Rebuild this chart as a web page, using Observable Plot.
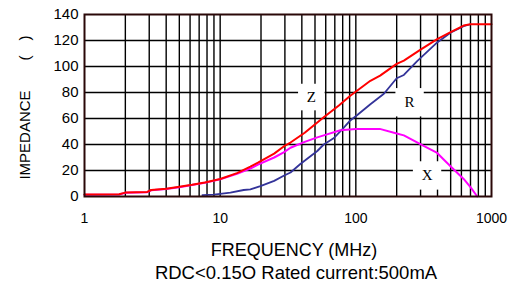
<!DOCTYPE html>
<html>
<head>
<meta charset="utf-8">
<script src="https://cdn.jsdelivr.net/npm/d3@7"></script>
<script src="https://cdn.jsdelivr.net/npm/@observablehq/plot@0.6"></script>
<style>
  html, body { margin: 0; padding: 0; background: #fff; }
  #chart svg { display: block; }
</style>
</head>
<body>
<div id="chart"></div>
<script>
// Z (impedance) curve
const freqZ = [1, 1.8, 2.0, 2.9, 3.1, 4, 5, 6.2, 7.7, 10, 13.3, 16.7, 19, 25, 29.4, 33, 42, 52, 58, 75, 91, 128, 151, 200, 226, 300, 398, 500, 623, 700, 800, 1000];
const impZ  = [1.5, 1.8, 3.0, 3.5, 5, 6, 7.5, 9, 10.8, 13.5, 18, 23, 26, 33, 38.5, 41.5, 49, 57, 61, 70, 77.5, 89, 93, 102, 104.5, 113, 121, 126.5, 131.5, 132.5, 132.5, 132.5];
// R (resistance) curve
const freqR = [7.4, 9, 11.9, 14.9, 16.7, 19.8, 25, 29.4, 33, 39, 52, 58, 69, 80, 91, 102, 128, 161, 200, 226, 282, 398, 498, 623, 700];
const impR  = [1, 1.5, 3, 5, 5.5, 8, 12, 16, 18.5, 25, 35, 40, 45, 52, 58.5, 62.5, 71, 79, 91, 93.5, 104, 118.5, 126, 131, 132.5];
// X (reactance) curve
const freqX = [1, 1.8, 2.0, 2.9, 3.1, 4, 5, 6.2, 7.7, 10, 13.3, 16.7, 19, 25, 29.4, 33, 42, 52, 58, 77, 100, 150, 200, 226, 316, 398, 444, 525, 623, 700, 785];
const impX  = [1.3, 1.6, 2.8, 3.3, 4.8, 5.8, 7.2, 8.8, 10.5, 13.2, 17.5, 21.5, 24.5, 30, 34, 37.5, 42, 45.5, 47, 51, 52, 52, 48.5, 47, 39, 33.5, 28.5, 21, 13.5, 7.2, 0];

// curve labels
const labelNames = ["Z", "R", "X"];
const labelFreq  = [47, 249, 335];
const labelImp   = [76.5, 72.5, 16.2];
const labelBox   = [15, 16, 16];

// ticks
const xTicks = [1, 10, 100, 1000];
const yTicks = [0, 20, 40, 60, 80, 100, 120, 140];
const xGrid = [2,3,4,5,6,7,8,9,10,20,30,40,50,60,70,80,90,100,200,300,400,500,600,700,800,900];
const yGrid = [20, 40, 60, 80, 100, 120];

const xTitle = "FREQUENCY (MHz)";
const yTitle = "IMPEDANCE\u2003\u2003(\u2003)";
const caption = "RDC<0.15O Rated current:500mA";

const mk = (fs, vs) => fs.map((f, i) => ({f, v: vs[i]}));
const dataZ = mk(freqZ, impZ), dataR = mk(freqR, impR), dataX = mk(freqX, impX);
const labels = labelNames.map((n, i) => ({n, f: labelFreq[i], v: labelImp[i], b: labelBox[i]}));

const chart = Plot.plot({
  width: 509,
  height: 296,
  marginLeft: 84,
  marginRight: 18,
  marginTop: 14,
  marginBottom: 100,
  style: {fontFamily: "Liberation Sans, Arial, sans-serif", background: "#fff"},
  x: {type: "log", domain: [1, 1000]},
  y: {domain: [0, 140]},
  r: {type: "identity"},
  marks: [
    Plot.ruleX(xGrid, {stroke: "#000", strokeWidth: 1.4, strokeOpacity: 1}),
    Plot.ruleY(yGrid, {stroke: "#000", strokeWidth: 1.4, strokeOpacity: 1}),
    Plot.dot(labels, {x: "f", y: "v", symbol: "square", r: "b", fill: "#fff", stroke: "none"}),
    Plot.line(dataR, {x: "f", y: "v", stroke: "#333399", strokeWidth: 1.8}),
    Plot.line(dataX, {x: "f", y: "v", stroke: "#ff00ff", strokeWidth: 2}),
    Plot.line(dataZ, {x: "f", y: "v", stroke: "#ff0000", strokeWidth: 2}),
    Plot.text(labels, {x: "f", y: "v", text: "n", fontFamily: "Liberation Serif, Times New Roman, serif", fontSize: 15, fill: "#000"}),
    Plot.axisX({ticks: xTicks, tickFormat: d => String(d), tickSize: 0, tickPadding: 17, fontSize: 14, label: null}),
    Plot.axisY({ticks: yTicks, tickSize: 0, tickPadding: 6, fontSize: 15, label: null}),
    Plot.text([xTitle], {frameAnchor: "bottom", lineAnchor: "middle", textAnchor: "middle", dx: 6, dy: 54, fontSize: 18, fill: "#000"}),
    Plot.text([caption], {frameAnchor: "bottom", lineAnchor: "middle", textAnchor: "middle", dx: 8, dy: 77, fontSize: 18.5, fill: "#000"}),
    Plot.text([yTitle], {frameAnchor: "left", textAnchor: "middle", lineAnchor: "middle", rotate: -90, dx: -59, dy: 2, fontSize: 15, fill: "#000"}),
    Plot.frame({stroke: "#2a0808", strokeWidth: 2})
  ]
});
document.getElementById("chart").appendChild(chart);
</script>
</body>
</html>
